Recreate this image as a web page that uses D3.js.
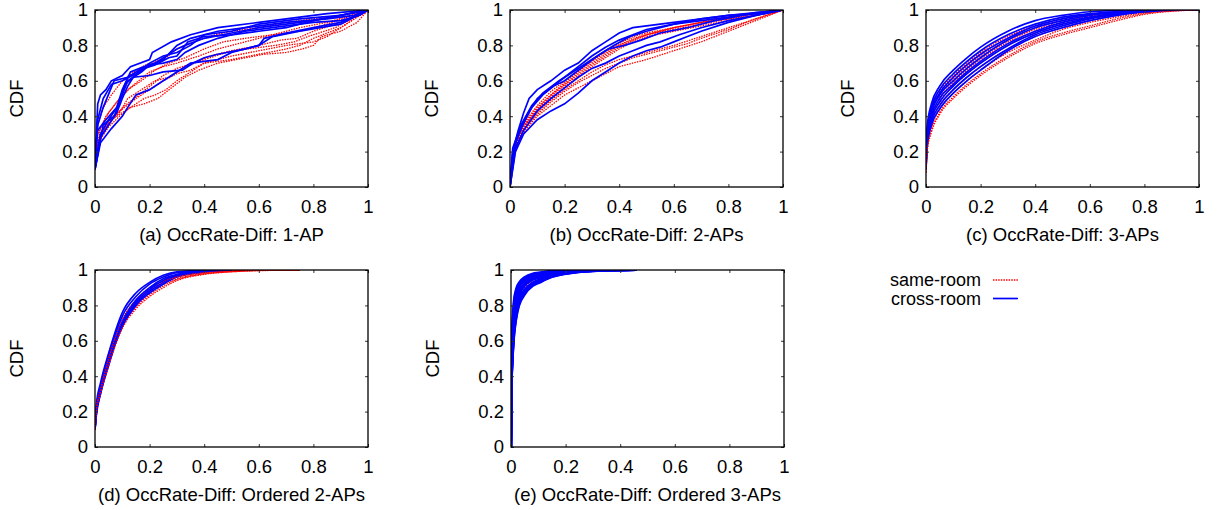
<!DOCTYPE html>
<html>
<head>
<meta charset="utf-8">
<script src="https://cdn.jsdelivr.net/npm/d3@7"></script>
<style>
  body { margin: 0; background: #fff; }
  svg { font-family: "Liberation Sans", Arial, sans-serif; }
  .tick text { font-size: 18.5px; fill: #000; }
  .tick line { stroke: #333; }
  .same { fill: none; stroke: #ff0000; stroke-width: 1.3; stroke-dasharray: 1.5 1.1; }
  .cross { fill: none; stroke: #0000ff; stroke-width: 1.7; }
  .thick { stroke-width: 2.2; }
</style>
</head>
<body>
<svg id="chart" width="1217" height="510"></svg>
<script>
// tick labels shared by every panel
const tickValues = [0, 0.2, 0.4, 0.6, 0.8, 1]

const captions = [
  '(a) OccRate-Diff: 1-AP',
  '(b) OccRate-Diff: 2-APs',
  '(c) OccRate-Diff: 3-APs',
  '(d) OccRate-Diff: Ordered 2-APs',
  '(e) OccRate-Diff: Ordered 3-APs'
]
const legendLabels = ['same-room', 'cross-room']

// (a) 1-AP : each curve is a list of [x, cdf]
const aSame = [
  [[0, 0.1], [0.01, 0.25], [0.03, 0.32], [0.06, 0.38], [0.1, 0.42], [0.14, 0.46], [0.18, 0.5], [0.22, 0.52], [0.26, 0.55], [0.3, 0.6], [0.34, 0.64], [0.4, 0.7], [0.5, 0.74], [0.6, 0.77], [0.7, 0.8], [0.8, 0.82], [0.85, 0.85], [0.9, 0.9], [0.95, 0.95], [1, 1]],
  [[0, 0.15], [0.02, 0.3], [0.05, 0.38], [0.1, 0.44], [0.15, 0.5], [0.2, 0.55], [0.25, 0.6], [0.3, 0.64], [0.35, 0.66], [0.4, 0.7], [0.5, 0.72], [0.6, 0.75], [0.7, 0.78], [0.75, 0.8], [0.8, 0.84], [0.9, 0.9], [1, 1]],
  [[0, 0.2], [0.01, 0.3], [0.04, 0.4], [0.08, 0.48], [0.12, 0.55], [0.16, 0.6], [0.2, 0.65], [0.25, 0.68], [0.3, 0.7], [0.38, 0.74], [0.45, 0.78], [0.55, 0.82], [0.65, 0.86], [0.75, 0.88], [0.85, 0.92], [1, 1]],
  [[0, 0.12], [0.02, 0.28], [0.05, 0.36], [0.09, 0.42], [0.12, 0.5], [0.17, 0.55], [0.22, 0.6], [0.27, 0.62], [0.33, 0.68], [0.4, 0.72], [0.48, 0.76], [0.56, 0.78], [0.66, 0.8], [0.73, 0.82], [0.78, 0.85], [0.82, 0.87], [0.88, 0.9], [0.95, 0.96], [1, 1]],
  [[0, 0.18], [0.01, 0.35], [0.03, 0.45], [0.06, 0.52], [0.1, 0.6], [0.15, 0.66], [0.2, 0.7], [0.26, 0.73], [0.3, 0.78], [0.36, 0.82], [0.44, 0.86], [0.5, 0.88], [0.6, 0.9], [0.7, 0.93], [0.8, 0.95], [0.9, 0.97], [1, 1]],
  [[0, 0.1], [0.02, 0.27], [0.05, 0.34], [0.09, 0.4], [0.13, 0.45], [0.18, 0.47], [0.23, 0.5], [0.28, 0.56], [0.33, 0.62], [0.38, 0.66], [0.45, 0.7], [0.55, 0.73], [0.62, 0.75], [0.7, 0.76], [0.76, 0.78], [0.8, 0.8], [0.83, 0.85], [0.9, 0.88], [0.96, 0.93], [1, 1]],
  [[0, 0.16], [0.02, 0.33], [0.05, 0.42], [0.09, 0.5], [0.13, 0.56], [0.17, 0.6], [0.22, 0.66], [0.27, 0.7], [0.33, 0.73], [0.4, 0.78], [0.47, 0.82], [0.55, 0.84], [0.65, 0.86], [0.75, 0.9], [0.85, 0.93], [1, 1]],
  [[0, 0.14], [0.03, 0.32], [0.07, 0.4], [0.11, 0.46], [0.16, 0.52], [0.21, 0.58], [0.25, 0.63], [0.3, 0.67], [0.36, 0.7], [0.42, 0.74], [0.5, 0.77], [0.6, 0.8], [0.68, 0.83], [0.74, 0.84], [0.8, 0.88], [0.88, 0.92], [0.95, 0.96], [1, 1]]
]
const aCross = [
  [[0, 0.1], [0.005, 0.3], [0.01, 0.47], [0.02, 0.52], [0.04, 0.55], [0.06, 0.6], [0.1, 0.63], [0.13, 0.68], [0.2, 0.72], [0.21, 0.76], [0.28, 0.82], [0.35, 0.86], [0.45, 0.9], [0.6, 0.93], [0.75, 0.96], [0.85, 0.98], [1, 1]],
  [[0, 0.15], [0.01, 0.35], [0.03, 0.45], [0.07, 0.6], [0.12, 0.62], [0.16, 0.66], [0.25, 0.72], [0.3, 0.8], [0.35, 0.84], [0.45, 0.88], [0.55, 0.9], [0.7, 0.93], [0.85, 0.95], [0.95, 0.97], [1, 1]],
  [[0, 0.12], [0.02, 0.3], [0.05, 0.38], [0.08, 0.45], [0.1, 0.55], [0.13, 0.65], [0.18, 0.68], [0.22, 0.7], [0.3, 0.78], [0.33, 0.8], [0.4, 0.84], [0.5, 0.87], [0.6, 0.9], [0.8, 0.94], [1, 1]],
  [[0, 0.1], [0.02, 0.25], [0.06, 0.33], [0.1, 0.4], [0.12, 0.45], [0.15, 0.52], [0.2, 0.55], [0.25, 0.6], [0.3, 0.65], [0.35, 0.7], [0.45, 0.72], [0.5, 0.76], [0.6, 0.8], [0.65, 0.85], [0.75, 0.88], [0.9, 0.92], [1, 1]],
  [[0, 0.15], [0.01, 0.32], [0.04, 0.38], [0.08, 0.45], [0.1, 0.52], [0.12, 0.6], [0.17, 0.65], [0.2, 0.69], [0.25, 0.7], [0.3, 0.72], [0.33, 0.76], [0.38, 0.8], [0.45, 0.84], [0.55, 0.88], [0.65, 0.9], [0.8, 0.93], [0.9, 0.94], [0.97, 0.97], [1, 1]],
  [[0, 0.1], [0.02, 0.28], [0.05, 0.35], [0.08, 0.42], [0.1, 0.5], [0.12, 0.57], [0.14, 0.62], [0.2, 0.63], [0.25, 0.65], [0.32, 0.66], [0.36, 0.7], [0.4, 0.73], [0.45, 0.75], [0.55, 0.78], [0.6, 0.8], [0.62, 0.84], [0.7, 0.87], [0.8, 0.9], [0.9, 0.93], [1, 1]],
  [[0, 0.1], [0.03, 0.35], [0.07, 0.4], [0.09, 0.48], [0.11, 0.58], [0.14, 0.62], [0.18, 0.67], [0.22, 0.69], [0.27, 0.73], [0.3, 0.74], [0.34, 0.82], [0.4, 0.85], [0.5, 0.86], [0.6, 0.88], [0.7, 0.9], [0.8, 0.94], [1, 1]],
  [[0, 0.12], [0.01, 0.38], [0.03, 0.5], [0.06, 0.58], [0.1, 0.6], [0.15, 0.64], [0.2, 0.7], [0.25, 0.74], [0.3, 0.76], [0.35, 0.8], [0.4, 0.86], [0.5, 0.88], [0.6, 0.92], [0.75, 0.95], [0.9, 0.97], [1, 1]]
]

// (b) 2-APs
const bSame = [
  [[0, 0], [0.01, 0.15], [0.03, 0.25], [0.06, 0.33], [0.1, 0.4], [0.15, 0.46], [0.2, 0.52], [0.25, 0.56], [0.3, 0.6], [0.35, 0.64], [0.4, 0.68], [0.5, 0.72], [0.6, 0.77], [0.7, 0.82], [0.8, 0.88], [0.9, 0.94], [1, 1]],
  [[0, 0], [0.01, 0.17], [0.03, 0.27], [0.06, 0.35], [0.1, 0.42], [0.15, 0.49], [0.2, 0.55], [0.25, 0.6], [0.3, 0.65], [0.35, 0.69], [0.4, 0.72], [0.5, 0.76], [0.6, 0.8], [0.7, 0.85], [0.8, 0.9], [0.9, 0.95], [1, 1]],
  [[0, 0], [0.01, 0.18], [0.03, 0.28], [0.06, 0.36], [0.1, 0.44], [0.15, 0.52], [0.2, 0.58], [0.25, 0.64], [0.3, 0.7], [0.35, 0.75], [0.4, 0.8], [0.45, 0.83], [0.5, 0.86], [0.6, 0.89], [0.7, 0.92], [0.8, 0.95], [0.9, 0.98], [1, 1]],
  [[0, 0], [0.01, 0.16], [0.03, 0.26], [0.06, 0.35], [0.1, 0.43], [0.15, 0.5], [0.2, 0.57], [0.25, 0.62], [0.3, 0.68], [0.35, 0.73], [0.4, 0.78], [0.45, 0.82], [0.5, 0.85], [0.6, 0.88], [0.7, 0.91], [0.8, 0.94], [0.9, 0.97], [1, 1]],
  [[0, 0], [0.01, 0.2], [0.03, 0.3], [0.06, 0.38], [0.1, 0.46], [0.15, 0.54], [0.2, 0.6], [0.25, 0.66], [0.3, 0.72], [0.35, 0.77], [0.4, 0.81], [0.45, 0.85], [0.5, 0.87], [0.6, 0.9], [0.7, 0.93], [0.8, 0.96], [0.9, 0.98], [1, 1]],
  [[0, 0], [0.01, 0.15], [0.03, 0.25], [0.06, 0.34], [0.1, 0.41], [0.15, 0.48], [0.2, 0.54], [0.25, 0.59], [0.3, 0.63], [0.35, 0.67], [0.4, 0.7], [0.45, 0.73], [0.5, 0.75], [0.6, 0.79], [0.65, 0.81], [0.7, 0.84], [0.8, 0.89], [0.9, 0.95], [1, 1]],
  [[0, 0], [0.01, 0.19], [0.03, 0.29], [0.06, 0.37], [0.1, 0.45], [0.15, 0.52], [0.2, 0.59], [0.25, 0.65], [0.3, 0.71], [0.35, 0.76], [0.4, 0.8], [0.45, 0.84], [0.5, 0.86], [0.6, 0.9], [0.7, 0.93], [0.8, 0.95], [0.9, 0.97], [1, 1]],
  [[0, 0], [0.01, 0.17], [0.03, 0.27], [0.06, 0.36], [0.1, 0.44], [0.15, 0.51], [0.2, 0.58], [0.25, 0.63], [0.3, 0.69], [0.35, 0.74], [0.4, 0.79], [0.45, 0.83], [0.5, 0.86], [0.6, 0.9], [0.7, 0.93], [0.8, 0.96], [1, 1]]
]
const bCross = [
  [[0, 0], [0.01, 0.2], [0.03, 0.32], [0.05, 0.42], [0.07, 0.5], [0.1, 0.55], [0.15, 0.6], [0.2, 0.66], [0.25, 0.7], [0.3, 0.77], [0.35, 0.82], [0.4, 0.87], [0.45, 0.9], [0.5, 0.91], [0.6, 0.93], [0.7, 0.95], [0.8, 0.97], [0.9, 0.98], [1, 1]],
  [[0, 0], [0.01, 0.18], [0.03, 0.3], [0.06, 0.4], [0.1, 0.5], [0.15, 0.56], [0.2, 0.62], [0.25, 0.68], [0.3, 0.74], [0.35, 0.79], [0.4, 0.83], [0.45, 0.86], [0.5, 0.89], [0.6, 0.92], [0.7, 0.95], [0.8, 0.97], [1, 1]],
  [[0, 0], [0.02, 0.2], [0.05, 0.3], [0.1, 0.38], [0.15, 0.43], [0.2, 0.47], [0.25, 0.53], [0.3, 0.6], [0.35, 0.65], [0.4, 0.7], [0.45, 0.74], [0.5, 0.77], [0.55, 0.79], [0.6, 0.82], [0.65, 0.85], [0.7, 0.88], [0.8, 0.93], [0.9, 0.97], [1, 1]],
  [[0, 0], [0.01, 0.22], [0.04, 0.35], [0.08, 0.46], [0.12, 0.53], [0.18, 0.6], [0.24, 0.66], [0.3, 0.72], [0.36, 0.78], [0.42, 0.8], [0.48, 0.83], [0.55, 0.87], [0.65, 0.9], [0.75, 0.94], [0.85, 0.97], [1, 1]],
  [[0, 0], [0.02, 0.25], [0.05, 0.36], [0.08, 0.45], [0.12, 0.52], [0.16, 0.57], [0.2, 0.6], [0.26, 0.67], [0.32, 0.74], [0.38, 0.8], [0.44, 0.85], [0.5, 0.88], [0.6, 0.92], [0.7, 0.94], [0.8, 0.96], [0.9, 0.985], [1, 1]],
  [[0, 0], [0.02, 0.22], [0.05, 0.32], [0.1, 0.43], [0.15, 0.5], [0.2, 0.56], [0.25, 0.62], [0.3, 0.67], [0.35, 0.7], [0.4, 0.74], [0.45, 0.77], [0.5, 0.8], [0.55, 0.82], [0.62, 0.86], [0.7, 0.9], [0.8, 0.94], [0.9, 0.97], [1, 1]]
]

// (c) 3-APs : shared x grid, one cdf row per curve
const cX = [0, 0.005, 0.02, 0.05, 0.1, 0.15, 0.2, 0.3, 0.4, 0.5, 0.6, 0.7, 0.8, 0.9, 1]
const cSame = [
  [0.15, 0.32, 0.44, 0.54, 0.63, 0.7, 0.76, 0.85, 0.91, 0.95, 0.975, 0.99, 0.998, 1, 1],
  [0.14, 0.3, 0.42, 0.52, 0.61, 0.68, 0.74, 0.83, 0.9, 0.94, 0.97, 0.985, 0.995, 1, 1],
  [0.12, 0.28, 0.4, 0.5, 0.59, 0.66, 0.72, 0.82, 0.89, 0.93, 0.965, 0.98, 0.993, 1, 1],
  [0.12, 0.27, 0.38, 0.48, 0.57, 0.64, 0.7, 0.8, 0.87, 0.92, 0.955, 0.975, 0.99, 1, 1],
  [0.1, 0.25, 0.36, 0.46, 0.55, 0.62, 0.68, 0.78, 0.85, 0.9, 0.94, 0.97, 0.99, 0.998, 1],
  [0.1, 0.23, 0.34, 0.44, 0.53, 0.6, 0.66, 0.76, 0.83, 0.89, 0.93, 0.96, 0.985, 0.997, 1],
  [0.08, 0.22, 0.32, 0.42, 0.51, 0.58, 0.64, 0.74, 0.82, 0.87, 0.91, 0.95, 0.98, 0.995, 1],
  [0.08, 0.21, 0.31, 0.41, 0.5, 0.57, 0.63, 0.73, 0.81, 0.86, 0.9, 0.94, 0.975, 0.993, 1]
]
const cCross = [
  [0.2, 0.35, 0.47, 0.57, 0.66, 0.73, 0.79, 0.88, 0.94, 0.97, 0.99, 0.997, 1, 1, 1],
  [0.18, 0.33, 0.45, 0.55, 0.64, 0.71, 0.77, 0.86, 0.92, 0.96, 0.98, 0.99, 1, 1, 1],
  [0.15, 0.31, 0.43, 0.53, 0.62, 0.69, 0.75, 0.84, 0.91, 0.95, 0.975, 0.99, 0.998, 1, 1],
  [0.14, 0.3, 0.42, 0.52, 0.6, 0.67, 0.73, 0.83, 0.9, 0.94, 0.97, 0.985, 0.995, 1, 1],
  [0.12, 0.28, 0.4, 0.5, 0.58, 0.65, 0.71, 0.81, 0.88, 0.93, 0.96, 0.98, 0.99, 1, 1],
  [0.12, 0.27, 0.39, 0.48, 0.57, 0.64, 0.7, 0.8, 0.87, 0.92, 0.955, 0.98, 0.99, 1, 1],
  [0.1, 0.26, 0.37, 0.46, 0.55, 0.62, 0.68, 0.78, 0.86, 0.91, 0.95, 0.975, 0.99, 1, 1],
  [0.1, 0.24, 0.35, 0.44, 0.53, 0.6, 0.66, 0.77, 0.85, 0.9, 0.94, 0.97, 0.99, 0.998, 1]
]

// (d) Ordered 2-APs
const dX = [0, 0.005, 0.02, 0.05, 0.1, 0.15, 0.2, 0.25, 0.3, 0.4, 0.5, 0.6, 0.75]
const dSame = [
  [0.1, 0.22, 0.33, 0.5, 0.72, 0.83, 0.9, 0.94, 0.97, 0.99, 0.997, 1, 1],
  [0.1, 0.21, 0.32, 0.49, 0.7, 0.81, 0.88, 0.93, 0.96, 0.985, 0.995, 0.999, 1],
  [0.1, 0.2, 0.31, 0.48, 0.69, 0.8, 0.87, 0.92, 0.95, 0.98, 0.993, 0.998, 1],
  [0.1, 0.2, 0.3, 0.47, 0.68, 0.79, 0.86, 0.91, 0.945, 0.978, 0.99, 0.997, 1],
  [0.1, 0.21, 0.32, 0.5, 0.71, 0.82, 0.89, 0.935, 0.96, 0.985, 0.995, 0.999, 1],
  [0.1, 0.2, 0.3, 0.46, 0.67, 0.78, 0.85, 0.9, 0.94, 0.975, 0.99, 0.996, 1]
]
const dCross = [
  [0.1, 0.24, 0.36, 0.53, 0.76, 0.87, 0.93, 0.97, 0.99, 0.998, 1],
  [0.1, 0.22, 0.34, 0.52, 0.74, 0.85, 0.92, 0.96, 0.985, 0.997, 1],
  [0.1, 0.2, 0.32, 0.5, 0.71, 0.83, 0.9, 0.95, 0.975, 0.995, 1],
  [0.1, 0.2, 0.31, 0.48, 0.69, 0.81, 0.88, 0.93, 0.965, 0.99, 1],
  [0.1, 0.18, 0.3, 0.47, 0.68, 0.8, 0.87, 0.92, 0.96, 0.99, 1],
  [0.1, 0.19, 0.3, 0.46, 0.7, 0.82, 0.89, 0.94, 0.97, 0.993, 1]
]

// (e) Ordered 3-APs
const eX = [0, 0.002, 0.005, 0.01, 0.02, 0.03, 0.05, 0.08, 0.1, 0.15, 0.2, 0.3, 0.46]
const eSame = [
  [0, 0.42, 0.6, 0.74, 0.85, 0.9, 0.935, 0.96, 0.97, 0.985, 0.993, 0.999, 1],
  [0, 0.39, 0.55, 0.7, 0.82, 0.87, 0.92, 0.95, 0.96, 0.978, 0.99, 0.998, 1],
  [0, 0.37, 0.52, 0.66, 0.79, 0.85, 0.9, 0.94, 0.95, 0.972, 0.986, 0.997, 1]
]
const eCross = [
  [0, 0.5, 0.68, 0.82, 0.9, 0.93, 0.96, 0.98, 0.985, 0.995, 0.998, 1, 1],
  [0, 0.48, 0.66, 0.8, 0.89, 0.925, 0.955, 0.975, 0.982, 0.993, 0.997, 1, 1],
  [0, 0.45, 0.64, 0.78, 0.88, 0.92, 0.95, 0.97, 0.98, 0.99, 0.996, 1, 1],
  [0, 0.43, 0.62, 0.76, 0.87, 0.91, 0.945, 0.968, 0.977, 0.989, 0.995, 0.999, 1],
  [0, 0.42, 0.6, 0.75, 0.86, 0.9, 0.94, 0.965, 0.975, 0.988, 0.995, 0.999, 1],
  [0, 0.4, 0.56, 0.72, 0.83, 0.88, 0.925, 0.955, 0.965, 0.982, 0.99, 0.998, 1],
  [0, 0.39, 0.545, 0.7, 0.815, 0.87, 0.918, 0.95, 0.96, 0.978, 0.989, 0.997, 1],
  [0, 0.38, 0.53, 0.68, 0.8, 0.86, 0.91, 0.945, 0.955, 0.975, 0.988, 0.997, 1],
  [0, 0.36, 0.5, 0.65, 0.77, 0.84, 0.89, 0.93, 0.945, 0.97, 0.985, 0.996, 1],
  [0, 0.355, 0.49, 0.635, 0.76, 0.83, 0.882, 0.925, 0.94, 0.968, 0.982, 0.995, 1],
  [0, 0.35, 0.48, 0.62, 0.75, 0.82, 0.875, 0.92, 0.935, 0.965, 0.98, 0.995, 1],
  [0, 0.34, 0.47, 0.61, 0.74, 0.81, 0.868, 0.915, 0.93, 0.962, 0.979, 0.994, 1],
  [0, 0.33, 0.46, 0.6, 0.73, 0.8, 0.86, 0.91, 0.925, 0.96, 0.978, 0.994, 1]
]

// turn a row of cdf values on a shared grid into [x, y] pairs
const onGrid = (xs, rows) => rows.map(r => r.map((v, i) => [xs[i], v]))

const svg = d3.select('#chart')
const plotW = 273
const plotH = 177

// mix: interleave red and blue curves instead of drawing all red first
const panels = [
  { left: 95, top: 10, same: aSame, cross: aCross, curve: d3.curveLinear, mix: false },
  { left: 510, top: 10, same: bSame, cross: bCross, curve: d3.curveLinear, mix: false },
  { left: 926, top: 10, same: onGrid(cX, cSame), cross: onGrid(cX, cCross), curve: d3.curveMonotoneX, mix: true },
  { left: 95, top: 270, same: onGrid(dX, dSame), cross: onGrid(dX, dCross), curve: d3.curveMonotoneX, mix: true },
  { left: 511, top: 270, same: onGrid(eX, eSame), cross: onGrid(eX, eCross), curve: d3.curveMonotoneX, mix: false, thick: true }
]

panels.forEach((p, i) => {
  const g = svg.append('g').attr('transform', `translate(${p.left},${p.top})`)

  const x = d3.scaleLinear().domain([0, 1]).range([0, plotW])
  const y = d3.scaleLinear().domain([0, 1]).range([plotH, 0])

  const line = d3.line()
    .x(d => x(d[0]))
    .y(d => y(d[1]))
    .curve(p.curve)

  let order = []
  if (p.mix) {
    const n = Math.max(p.same.length, p.cross.length)
    for (let k = 0; k < n; k++) {
      if (p.cross[k]) order.push({ cls: 'cross', pts: p.cross[k] })
      if (p.same[k]) order.push({ cls: 'same', pts: p.same[k] })
    }
  } else {
    order = p.same.map(pts => ({ cls: 'same', pts }))
      .concat(p.cross.map(pts => ({ cls: 'cross', pts })))
  }

  g.append('clipPath').attr('id', 'clip' + i)
    .append('rect').attr('width', plotW).attr('height', plotH)

  g.append('g')
    .attr('clip-path', `url(#clip${i})`)
    .selectAll('path')
    .data(order)
    .enter()
    .append('path')
    .attr('class', d => d.cls + (p.thick && d.cls === 'cross' ? ' thick' : ''))
    .attr('d', d => line(d.pts))

  // axes, ticks point inward and are mirrored on top/right
  const fmt = d3.format('~g')
  g.append('g')
    .attr('transform', `translate(0,${plotH})`)
    .call(d3.axisBottom(x).tickValues(tickValues).tickFormat(fmt).tickSize(-3).tickPadding(13))
  g.append('g')
    .call(d3.axisTop(x).tickValues(tickValues).tickFormat('').tickSize(-3))
  g.append('g')
    .call(d3.axisLeft(y).tickValues(tickValues).tickFormat(fmt).tickSize(-3).tickPadding(7))
  g.append('g')
    .attr('transform', `translate(${plotW},0)`)
    .call(d3.axisRight(y).tickValues(tickValues).tickFormat('').tickSize(-3))
  g.selectAll('.domain').remove()

  g.append('rect')
    .attr('width', plotW)
    .attr('height', plotH)
    .attr('fill', 'none')
    .attr('stroke', '#000')
    .attr('stroke-width', 1.3)

  g.append('text')
    .attr('transform', `translate(-78,${plotH / 2}) rotate(-90)`)
    .attr('text-anchor', 'middle')
    .attr('dy', '0.35em')
    .style('font-size', '18.5px')
    .text('CDF')

  g.append('text')
    .attr('x', plotW / 2)
    .attr('y', plotH + 54)
    .attr('text-anchor', 'middle')
    .style('font-size', '18.5px')
    .text(captions[i])
})

// legend
const legend = svg.append('g').attr('transform', 'translate(981,280)')
legendLabels.forEach((lab, i) => {
  const row = legend.append('g').attr('transform', `translate(0,${i * 18.5})`)
  row.append('text')
    .attr('y', 6)
    .attr('text-anchor', 'end')
    .style('font-size', '18px')
    .text(lab)
  row.append('line')
    .attr('class', i === 0 ? 'same' : 'cross')
    .attr('x1', 12)
    .attr('x2', 37)
})
</script>
</body>
</html>
